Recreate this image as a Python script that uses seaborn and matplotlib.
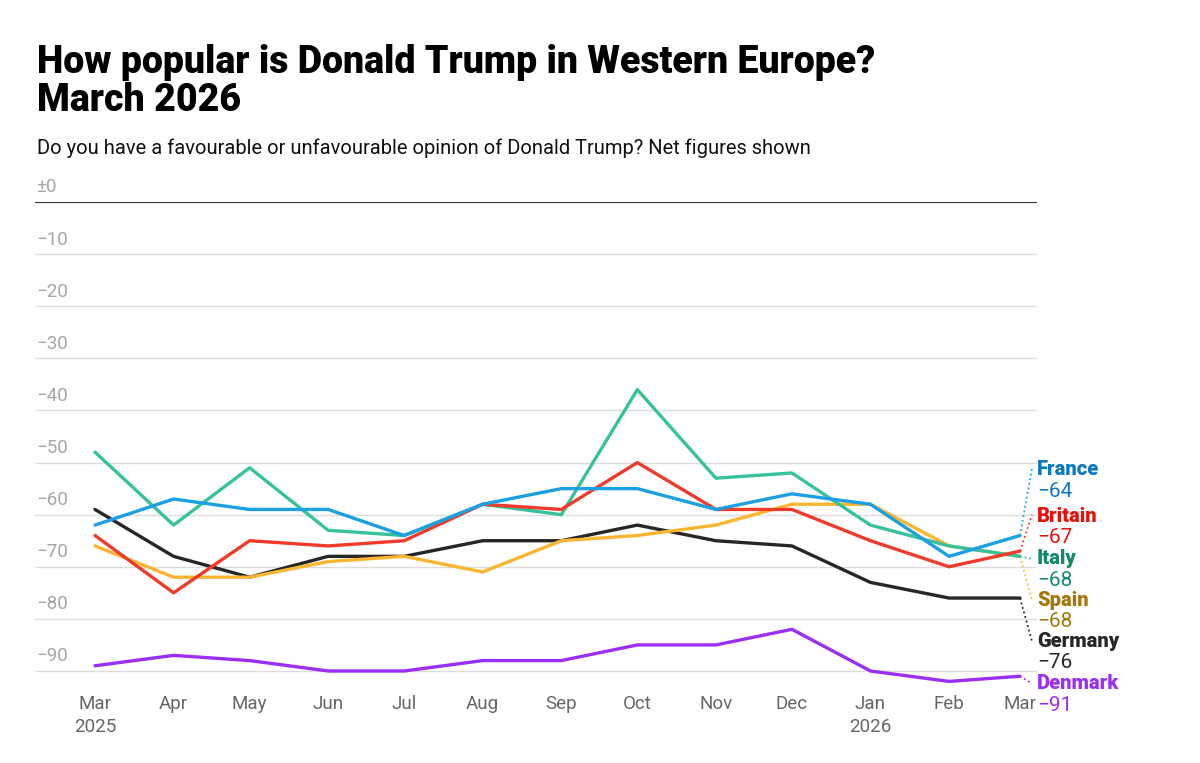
import matplotlib
matplotlib.use("Agg")
import matplotlib.pyplot as plt
import matplotlib.transforms as mtransforms
import seaborn as sns
import pandas as pd
import numpy as np

# ---------------- data ----------------
months = ["2025-03-01", "2025-04-01", "2025-05-01", "2025-06-01", "2025-07-01",
          "2025-08-01", "2025-09-01", "2025-10-01", "2025-11-01", "2025-12-01",
          "2026-01-01", "2026-02-01", "2026-03-01"]
month_labels = ["Mar\n2025", "Apr", "May", "Jun", "Jul", "Aug", "Sep", "Oct",
                "Nov", "Dec", "Jan\n2026", "Feb", "Mar"]

france  = [-62, -57, -59, -59, -64, -58, -55, -55, -59, -56, -58, -68, -64]
britain = [-64, -75, -65, -66, -65, -58, -59, -50, -59, -59, -65, -70, -67]
italy   = [-48, -62, -51, -63, -64, -58, -60, -36, -53, -52, -62, -66, -68]
spain   = [-66, -72, -72, -69, -68, -71, -65, -64, -62, -58, -58, -66, -68]
germany = [-59, -68, -72, -68, -68, -65, -65, -62, -65, -66, -73, -76, -76]
denmark = [-89, -87, -88, -90, -90, -88, -88, -85, -85, -82, -90, -92, -91]

countries = ["France", "Britain", "Italy", "Spain", "Germany", "Denmark"]
series = [france, britain, italy, spain, germany, denmark]

yticks = [0, -10, -20, -30, -40, -50, -60, -70, -80, -90]

# ---------------- styles ----------------
line_colors = {"France": "#1ba0e2", "Britain": "#f03b2a", "Italy": "#36c29a",
               "Spain": "#fbb531", "Germany": "#262626", "Denmark": "#9b2ff5"}
label_colors = {"France": "#0b78c4", "Britain": "#e3120b", "Italy": "#138a67",
                "Spain": "#a5770d", "Germany": "#262626", "Denmark": "#9b2ff5"}
# vertical positions (data units) of the end labels (name line)
label_pos = {"France": -51.4, "Britain": -60.3, "Italy": -68.5,
             "Spain": -76.4, "Germany": -84.3, "Denmark": -92.4}

rows = []
for c, vals in zip(countries, series):
    for m, v in zip(months, vals):
        rows.append({"date": pd.Timestamp(m), "country": c, "value": v})
df = pd.DataFrame(rows)

sns.set_style("white")
plt.rcParams["font.family"] = ["Roboto", "DejaVu Sans"]

W, H = 1200, 763
fig = plt.figure(figsize=(W / 100, H / 100), dpi=100)
ax_left, ax_right = 35, 1037
ax_top, ax_bot = 202, 687
ax = fig.add_axes([ax_left / W, 1 - ax_bot / H, (ax_right - ax_left) / W, (ax_bot - ax_top) / H])

# grid lines
for t in yticks:
    if t == 0:
        ax.axhline(t, color="#333333", lw=1.6, zorder=1)
    else:
        ax.axhline(t, color="#dcdcdc", lw=1.0, zorder=0)

draw_order = ["Denmark", "Germany", "Spain", "Italy", "Britain", "France"]
sns.lineplot(data=df, x="date", y="value", hue="country", hue_order=draw_order,
             palette=line_colors, lw=2.4, ax=ax, legend=False, zorder=3)

# axes limits: Mar 2025 at x=95px, Mar 2026 at x=1020px
d0 = pd.Timestamp(months[0]); d1 = pd.Timestamp(months[-1])
ndays = (d1 - d0).days
px_per_day = (1020 - 95) / ndays
ax.set_xlim(d0 - pd.Timedelta(days=(95 - ax_left) / px_per_day),
            d1 + pd.Timedelta(days=(ax_right - 1020) / px_per_day))
px_per_unit = (671 - 202) / 90
ax.set_ylim(-(ax_bot - ax_top) / px_per_unit, 0)

for s in ax.spines.values():
    s.set_visible(False)
ax.set_xlabel(""); ax.set_ylabel("")
ax.set_yticks([])
ax.set_xticks([pd.Timestamp(m) for m in months])
ax.set_xticklabels(month_labels, fontsize=13.5, color="#666666", linespacing=1.3)
ax.tick_params(axis="x", length=0, pad=6)
for lbl in ax.get_xticklabels():
    lbl.set_verticalalignment("top")

# y labels above gridlines
blend = mtransforms.blended_transform_factory(ax.transAxes, ax.transData)
for t in yticks:
    txt = "±0" if t == 0 else "\u2212" + str(abs(t))
    ax.annotate(txt, xy=(0, t), xycoords=blend, xytext=(1, 4), textcoords="offset points",
                ha="left", va="bottom", fontsize=13.5, color="#a6a6a6", annotation_clip=False)

# end labels with dotted connectors
for c, vals in zip(countries, series):
    last = vals[-1]
    ly = label_pos[c]
    ax.plot([d1, d1 + pd.Timedelta(days=12 / px_per_day)],
            [last, ly + 0.3 if c in ("France", "Britain") else ly],
            ls=(0, (1, 1.6)), lw=1.3, color=line_colors[c], clip_on=False, zorder=2)
    ax.annotate(c, xy=(1, ly), xycoords=blend, xytext=(0, 0), textcoords="offset points",
                ha="left", va="center", fontsize=14.5, fontweight="heavy",
                color=label_colors[c], annotation_clip=False)
    ax.annotate("\u2212" + str(abs(last)), xy=(1, ly), xycoords=blend, xytext=(0, -15.5),
                textcoords="offset points", ha="left", va="center", fontsize=15,
                color=label_colors[c], annotation_clip=False)

# titles
fig.text(37 / W, 1 - 44 / H, "How popular is Donald Trump in Western Europe?\nMarch 2026",
         ha="left", va="top", fontsize=27, fontweight="heavy", color="#000000", linespacing=1.02)
fig.text(37 / W, 1 - 148 / H, "Do you have a favourable or unfavourable opinion of Donald Trump? Net figures shown",
         ha="left", va="center", fontsize=14.5, color="#111111")

fig.savefig("out.png", dpi=100, facecolor="white")
